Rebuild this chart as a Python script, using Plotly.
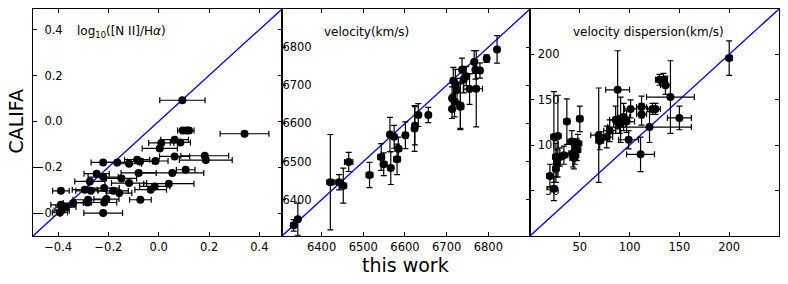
import plotly.graph_objects as go

# ---------------- Panel 1: log10([N II]/Halpha) ----------------
n2_this = [0.094, 0.341, 0.095, 0.11, 0.12, 0.063, 0.086, 0.010, 0.004, 0.063,
           0.183, 0.187, -0.013, -0.075, 0.107, 0.054, 0.040, -0.016, -0.032, -0.221,
           -0.165, -0.118, -0.086, -0.080, -0.247, -0.221, -0.148, -0.118, -0.274, -0.217,
           -0.270, -0.294, -0.181, -0.157, -0.389, -0.281, -0.283, -0.208, -0.217, -0.073,
           -0.340, -0.389, -0.369, -0.386, -0.393, -0.221]
n2_califa = [0.092, -0.054, -0.040, -0.040, -0.040, -0.080, -0.092, -0.094, -0.118, -0.153,
             -0.150, -0.169, -0.173, -0.175, -0.211, -0.225, -0.272, -0.284, -0.298, -0.179,
             -0.179, -0.185, -0.167, -0.225, -0.228, -0.243, -0.249, -0.269, -0.262, -0.291,
             -0.303, -0.298, -0.303, -0.313, -0.303, -0.342, -0.354, -0.339, -0.354, -0.342,
             -0.356, -0.364, -0.374, -0.389, -0.397, -0.400]
n2_xerr = [0.09, 0.097, 0.02, 0.02, 0.02, 0.055, 0.04, 0.05, 0.07, 0.06,
           0.095, 0.105, 0.05, 0.05, 0.037, 0.125, 0.10, 0.06, 0.063, 0.048,
           0.05, 0.05, 0.05, 0.07, 0.05, 0.06, 0.06, 0.07, 0.06, 0.06,
           0.06, 0.05, 0.06, 0.05, 0.033, 0.06, 0.06, 0.05, 0.05, 0.043,
           0.04, 0.04, 0.04, 0.03, 0.03, 0.077]

# ---------------- Panel 2: velocity ----------------
vel_this = [6333, 6343, 6421, 6442, 6452, 6465, 6515, 6543, 6549, 6566,
            6581, 6584, 6564, 6574, 6601, 6623, 6624, 6632, 6656, 6713,
            6713, 6719, 6721, 6725, 6733, 6737, 6741, 6747, 6755, 6766,
            6769, 6771, 6780, 6796, 6821, 6716, 6733]
vel_califa = [6333, 6349, 6446, 6446, 6437, 6499, 6465, 6512, 6493, 6483,
              6506, 6534, 6571, 6565, 6569, 6587, 6594, 6622, 6622, 6666,
              6638, 6657, 6702, 6688, 6644, 6741, 6715, 6724, 6690, 6761,
              6741, 6691, 6739, 6770, 6794, 6712, 6647]
vel_xerr = [6, 6, 8, 10, 8, 10, 8, 8, 8, 6,
            8, 8, 6, 6, 6, 6, 6, 6, 6, 6,
            6, 6, 6, 6, 8, 6, 6, 6, 15, 6,
            6, 15, 6, 6, 5, 6, 6]
vel_yerr = [15, 42, 125, 20, 46, 25, 33, 35, 30, 43,
            40, 30, 45, 30, 35, 60, 50, 30, 20, 30,
            25, 40, 40, 30, 60, 30, 35, 25, 40, 30,
            25, 100, 20, 10, 36, 35, 60]

# ---------------- Panel 3: velocity dispersion ----------------
sig_this = [20, 24, 24, 28, 26, 27, 26, 30, 34, 37,
            50, 42, 43, 44, 47, 48, 45, 69, 70, 77,
            80, 88, 86, 91, 94, 90, 97, 99, 101, 130,
            134, 136, 141, 150, 112, 112, 123, 126, 120, 111,
            200]
sig_califa = [66, 52, 109, 110, 87, 80, 74, 87, 89, 126,
              129, 104, 91, 86, 95, 102, 89, 111, 105, 109,
              116, 161, 128, 128, 131, 123, 126, 106, 140, 172,
              172, 166, 153, 130, 142, 134, 140, 140, 120, 90,
              196]
sig_xerr = [3, 3, 3, 3, 3, 3, 3, 4, 4, 3,
            3, 4, 4, 4, 4, 4, 4, 8, 4, 6,
            6, 12, 6, 6, 6, 6, 8, 10, 6, 4,
            4, 5, 24, 12, 5, 5, 5, 5, 42, 14,
            3]
sig_yerr = [13, 13, 50, 45, 15, 15, 15, 10, 10, 25,
            14, 12, 15, 12, 12, 10, 10, 52, 10, 12,
            12, 43, 15, 25, 15, 10, 12, 10, 10, 6,
            7, 10, 40, 13, 12, 12, 6, 6, 17, 19,
            19]

# axis ranges (shared x/y per panel) and ticks
n2_range = [-0.5, 0.49]
vel_range = [6305, 6900]
sig_range = [0, 250]
n2_ticks = [-0.4, -0.2, 0.0, 0.2, 0.4]
n2_ticktext = ["\u22120.4", "\u22120.2", "0.0", "0.2", "0.4"]
vel_ticks = [6400, 6500, 6600, 6700, 6800]
sig_ticks = [50, 100, 150, 200]

titles = ["log<sub>10</sub>([N II]/H<i>α</i>)", "velocity(km/s)", "velocity dispersion(km/s)"]

FONT = "DejaVu Sans"
fig = go.Figure()

panels = [
    (n2_this, n2_califa, n2_xerr, None, n2_range, "x", "y"),
    (vel_this, vel_califa, vel_xerr, vel_yerr, vel_range, "x2", "y2"),
    (sig_this, sig_califa, sig_xerr, sig_yerr, sig_range, "x3", "y3"),
]
for xs, ys, xe, ye, rng, xa, ya in panels:
    fig.add_trace(go.Scatter(
        x=rng, y=rng, mode="lines", line=dict(color="#0000ff", width=1.3),
        xaxis=xa, yaxis=ya, showlegend=False, hoverinfo="skip"))
    fig.add_trace(go.Scatter(
        x=xs, y=ys, mode="markers",
        marker=dict(color="black", size=8),
        error_x=dict(type="data", array=xe, color="black", thickness=1.2, width=3),
        error_y=(dict(type="data", array=ye, color="black", thickness=1.2, width=3)
                 if ye is not None else dict(visible=False)),
        xaxis=xa, yaxis=ya, showlegend=False, cliponaxis=True))

W = 746.0
doms = [[0, 249 / W], [249 / W, 497 / W], [497 / W, 1]]
axis_common = dict(showline=True, linecolor="black", linewidth=1, mirror="ticks",
                   ticks="inside", ticklen=4, tickcolor="black", tickwidth=1,
                   showgrid=False, zeroline=False, automargin=False,
                   tickfont=dict(family=FONT, size=11.5, color="black"))
ycommon = dict(ticklabelposition="outside", ticklabelstandoff=-33)

fig.update_layout(
    template="none",
    xaxis=dict(domain=doms[0], range=n2_range, tickvals=n2_ticks, ticktext=n2_ticktext, anchor="y", **axis_common),
    yaxis=dict(domain=[0, 1], range=n2_range, tickvals=n2_ticks, ticktext=n2_ticktext, anchor="x",
               **ycommon, **axis_common),
    xaxis2=dict(domain=doms[1], range=vel_range, tickvals=vel_ticks, anchor="y2", **axis_common),
    yaxis2=dict(domain=[0, 1], range=vel_range, tickvals=vel_ticks, anchor="x2",
                **ycommon, **axis_common),
    xaxis3=dict(domain=doms[2], range=sig_range, tickvals=sig_ticks, anchor="y3", **axis_common),
    yaxis3=dict(domain=[0, 1], range=sig_range, tickvals=sig_ticks, anchor="x3",
                **ycommon, **axis_common),
)

ann = []
title_pos = [("x domain", "y domain", 0.169, "left"), ("x2 domain", "y2 domain", 0.161, "left"),
             ("x3 domain", "y3 domain", 0.474, "center")]
for t, (xr, yr, xp, anc) in zip(titles, title_pos):
    ann.append(dict(text=t, xref=xr, yref=yr, x=xp, y=0.900, xanchor=anc, yanchor="middle",
                    showarrow=False, font=dict(family=FONT, size=12, color="black")))
ann.append(dict(text="CALIFA", xref="paper", yref="paper", x=(16 - 33) / W, y=0.504,
                xanchor="center", yanchor="middle", textangle=-90, showarrow=False,
                font=dict(family=FONT, size=19, color="black")))
ann.append(dict(text="this work", xref="paper", yref="paper", x=(405 - 33) / W, y=(236 - 265) / 227.0,
                xanchor="center", yanchor="middle", showarrow=False,
                font=dict(family=FONT, size=19, color="black")))

fig.update_layout(
    width=788, height=284, autosize=False,
    margin=dict(l=33, r=9, t=9, b=48),
    paper_bgcolor="white", plot_bgcolor="white",
    annotations=ann, font=dict(family=FONT, color="black"),
)

fig.write_html("out.html", config={"displayModeBar": False},
               post_script="document.body.style.margin='0';document.body.style.overflow='hidden';")
